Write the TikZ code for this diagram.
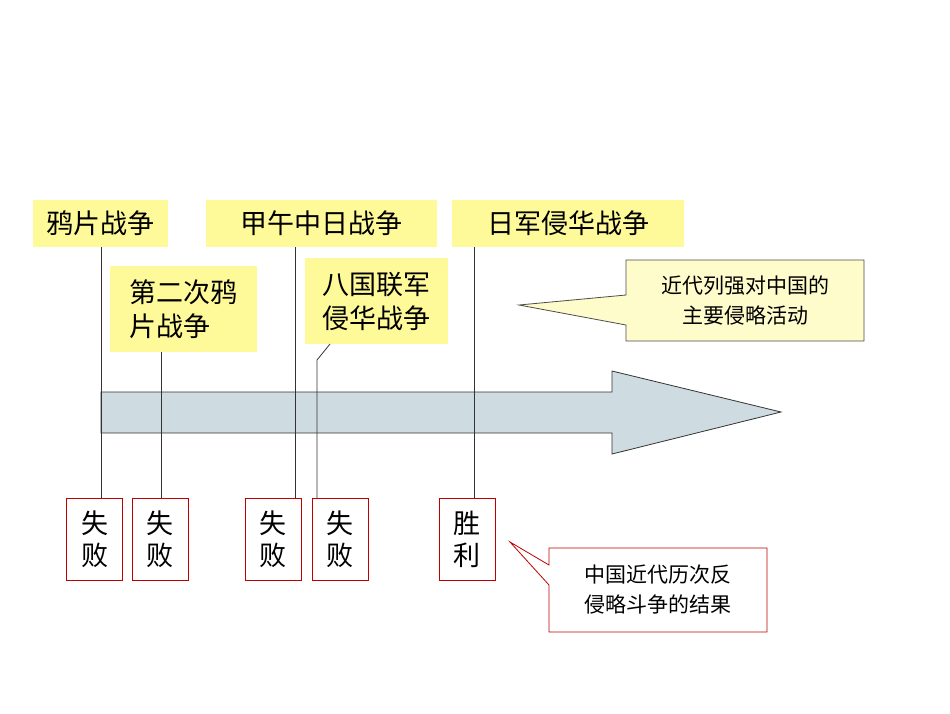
\documentclass[tikz,border=0pt]{standalone}
\usepackage{fontspec}
\setmainfont{Noto Sans CJK SC}
\begin{document}
\begin{tikzpicture}[x=1pt,y=-1pt,
  ybox/.style={fill=yellow!40!white,inner sep=0pt,font=\fontsize{27}{34}\selectfont,align=left},
  rbox/.style={draw=red!75!black,fill=white,inner sep=0pt,font=\fontsize{27}{32}\selectfont,align=center,minimum width=56pt,minimum height=82pt},
  vline/.style={draw=black!80,line width=0.8pt},
  ctext/.style={font=\fontsize{21}{30}\selectfont,align=center}]
\useasboundingbox (0,0) rectangle (950,713);
% yellow boxes
\node[ybox,minimum width=135pt,minimum height=47pt] (y1) at (100.5,223.5) {鸦片战争};
\node[ybox,minimum width=231pt,minimum height=47pt] (y2) at (321.5,223.5) {甲午中日战争};
\node[ybox,minimum width=232pt,minimum height=47pt] (y3) at (568,223.5) {日军侵华战争};
\node[ybox,minimum width=147pt,minimum height=86pt] (y4) at (183.5,309) {第二次鸦\\片战争};
\node[ybox,minimum width=143pt,minimum height=86pt] (y5) at (376.5,301) {八国联军\\侵华战争};
% arrow
\draw[fill=cyan!25!gray!35!white,draw=black!80,line width=0.8pt]
  (101,392) -- (612,392) -- (612,371) -- (781,412) -- (612,454) -- (612,433) -- (101,433) -- cycle;
% red boxes
\node[rbox] (r1) at (94.5,539) {失\\败};
\node[rbox] (r2) at (160,539) {失\\败};
\node[rbox] (r3) at (273,539) {失\\败};
\node[rbox] (r4) at (340,539) {失\\败};
\node[rbox] (r5) at (467,539) {胜\\利};
% lines
\draw[vline] (101,247) -- (r1.north -| 101,0);
\draw[vline] (161,352) -- (r2.north -| 161,0);
\draw[vline] (295,247) -- (r3.north -| 295,0);
\draw[vline] (330,344) -- (317,360) -- (r4.north -| 317,0);
\draw[vline] (474,247) -- (r5.north -| 474,0);
% callouts
\draw[fill=yellow!20!white,draw=black!70,line width=0.8pt]
  (626,260) -- (864,260) -- (864,341) -- (626,341) -- (626,325) -- (519,305) -- (626,295) -- cycle;
\node[ctext] (c1) at (745,300) {近代列强对中国的\\主要侵略活动};
\draw[fill=white,draw=red!75!black,line width=0.8pt]
  (549,548) -- (767,548) -- (767,632) -- (549,632) -- (549,585) -- (510,542) -- (549,565) -- cycle;
\node[ctext] (c2) at (658,590) {中国近代历次反\\侵略斗争的结果};
\end{tikzpicture}
\end{document}
